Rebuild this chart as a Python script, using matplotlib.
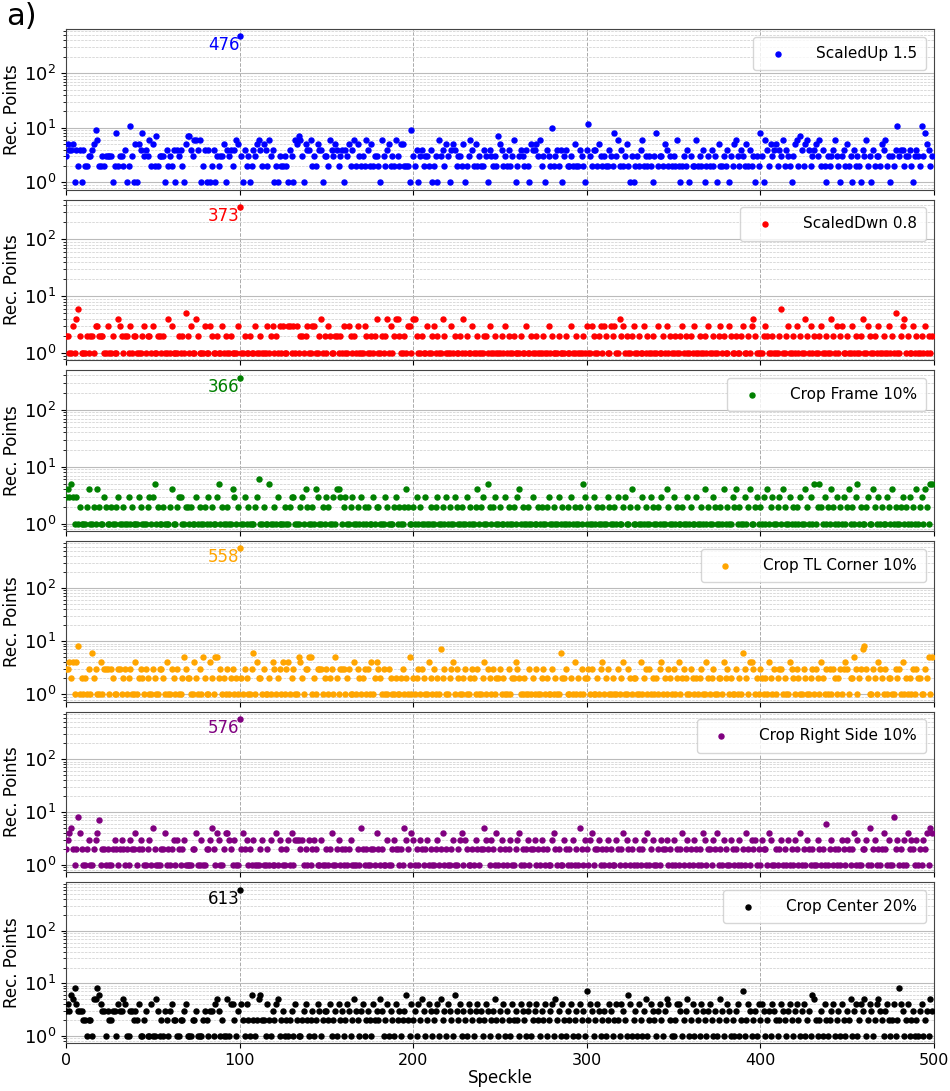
import numpy as np
import matplotlib
matplotlib.use("Agg")
import matplotlib.pyplot as plt

# recovered points per speckle (estimated, 500 speckles per panel)
scaled_up = [
    3,5,4,4,5,1,4,2,4,1, 4,2,2,3,3,4,5,9,6,2, 2,3,2,3,3,3,3,1,2,8, 2,3,3,2,4,1,2,11,3,1, 5,1,5,4,8,3,4,3,6,2,
    5,2,7,2,3,3,3,1,4,2, 3,2,4,1,4,3,4,2,1,5, 7,7,4,3,6,6,4,6,1,2, 4,1,4,1,2,4,1,3,2,3, 3,5,1,4,3,4,2,4,6,5,
    476,3,1,4,2,3,1,2,4,3, 5,6,4,2,5,4,2,6,3,4, 1,2,1,3,2,2,3,2,1,4, 3,1,6,5,7,6,3,1,5,4, 4,6,2,3,2,5,4,4,1,3,
    3,2,6,4,3,5,4,2,3,4, 1,4,3,5,2,4,6,2,5,3, 2,3,2,6,4,2,5,2,3,3, 2,1,6,3,2,4,5,2,3,2, 6,3,2,5,5,2,2,2,1,9,
    3,2,4,1,3,4,2,3,3,2, 4,1,2,3,1,6,3,4,2,5, 3,1,4,5,4,2,3,3,2,5, 1,2,3,6,4,2,5,2,3,2, 2,4,3,1,4,3,2,3,2,7,
    5,4,2,3,2,4,2,3,6,1, 2,3,4,3,2,4,2,1,5,4, 4,5,3,6,2,3,1,4,3,2, 10,2,3,4,2,4,1,3,4,2, 2,3,2,5,2,2,4,3,2,1,
    4,12,3,2,4,4,2,5,3,2, 3,2,2,4,3,2,8,3,6,2, 4,2,3,5,2,1,3,1,2,3, 2,4,6,2,3,2,3,2,1,3, 8,2,3,3,2,5,4,2,3,2,
    3,2,6,2,1,2,3,2,4,1, 3,2,2,6,2,3,2,4,1,2, 3,2,4,2,3,1,5,2,2,3, 2,4,1,3,2,5,6,3,2,4, 3,2,5,2,4,2,3,1,3,2,
    8,3,1,6,4,2,5,3,4,5, 2,4,3,6,2,4,3,2,1,3, 5,6,2,7,4,2,5,6,4,2, 3,4,5,3,6,2,4,2,1,3, 2,3,4,6,3,2,1,3,4,2,
    5,2,3,1,4,2,3,2,1,4, 3,6,2,3,1,4,2,3,3,2, 5,4,6,2,3,1,3,2,4,11, 3,4,4,2,3,3,4,2,1,3, 4,3,2,11,3,8,5,4,2,3,
]

scaled_dwn = [
    2,2,1,1,3,1,4,6,2,1, 1,1,2,1,2,2,1,3,3,2, 2,2,1,1,3,1,1,2,1,1, 4,3,2,1,2,2,1,3,1,2, 2,1,1,1,2,3,1,2,2,1,
    3,1,1,2,2,1,2,1,1,4, 1,3,1,1,1,2,1,2,1,5, 2,1,3,1,1,4,2,1,1,1, 3,1,1,3,2,1,1,2,1,1, 3,1,2,1,1,2,1,1,1,3,
    373,1,1,2,1,1,2,1,1,3, 1,1,2,1,1,1,3,1,2,3, 1,2,1,3,1,3,1,1,3,3, 1,3,1,3,1,2,2,1,2,3, 1,1,3,3,1,1,2,4,1,2,
    1,3,2,1,1,2,2,1,2,1, 3,1,1,3,2,1,2,1,3,1, 1,1,3,2,1,1,2,1,2,4, 1,1,2,1,2,4,1,3,1,2, 4,4,2,1,1,2,1,3,3,1,
    4,4,2,1,1,2,1,1,3,1, 1,2,3,1,2,1,1,4,2,1, 1,1,3,1,2,1,1,2,1,4, 1,2,1,1,3,1,1,2,1,1, 1,2,2,1,3,1,1,2,1,1,
    1,2,1,3,1,2,1,1,2,1, 1,1,2,1,1,3,1,1,2,1, 1,2,1,1,1,2,1,1,3,1, 2,1,1,1,2,1,1,1,2,1, 1,3,1,1,2,1,1,1,2,1,
    3,1,1,3,2,1,1,2,3,1, 3,2,1,1,3,2,3,1,1,4, 2,3,1,2,1,1,2,3,1,1, 2,1,1,3,1,2,1,1,2,1, 1,3,1,1,2,1,3,1,2,1,
    1,2,1,1,2,3,1,2,1,1, 2,1,3,1,1,2,1,1,2,1, 3,1,1,2,1,1,2,3,1,2, 1,1,3,2,1,1,2,1,1,2, 3,1,1,2,1,3,4,2,1,1,
    1,1,2,3,2,1,1,2,1,1, 1,2,6,1,1,2,3,1,1,2, 1,3,1,2,1,1,4,2,1,3, 1,2,1,1,2,3,1,1,2,1, 1,4,2,1,3,1,2,3,1,1,
    2,1,1,3,1,2,1,1,2,4, 1,1,3,2,1,1,2,1,3,1, 1,2,1,1,3,1,2,1,5,1, 1,2,3,4,1,2,1,1,3,1, 2,1,1,2,1,3,1,2,1,2,
]

crop_frame = [
    3,4,3,5,3,1,3,1,2,1, 1,1,2,4,1,1,2,1,4,2, 1,1,3,2,1,1,2,1,1,2, 3,1,1,2,1,1,3,1,2,1, 1,1,3,2,1,1,1,2,3,1,
    3,5,1,2,1,1,2,1,1,1, 2,4,1,1,2,3,3,1,1,2, 2,1,2,1,1,3,1,2,1,1, 2,1,3,1,2,1,1,3,5,1, 2,1,1,2,1,1,4,3,1,2,
    366,1,1,3,1,2,1,1,1,2, 3,6,1,1,2,1,1,5,1,1, 2,1,3,1,1,1,2,1,1,2, 3,3,1,1,1,2,3,1,4,2, 1,1,2,1,4,3,1,1,2,1,
    3,2,1,1,3,1,4,4,3,1, 2,3,1,1,2,3,1,1,2,1, 3,1,2,1,2,1,1,3,1,2, 2,1,1,1,3,2,1,1,1,2, 3,1,2,1,1,2,4,2,1,1,
    2,1,3,1,2,1,1,3,1,1, 2,1,1,2,3,1,1,2,1,3, 1,2,1,1,3,2,1,1,2,1, 1,3,1,2,1,1,2,4,1,2, 3,1,1,5,2,1,2,3,1,1,
    2,1,1,3,1,2,1,1,2,1, 3,4,1,2,1,1,2,1,1,3, 1,1,2,1,2,1,1,2,3,1, 1,2,1,1,3,1,2,1,1,2, 1,3,1,2,1,1,2,1,5,3,
    1,2,1,1,3,1,2,1,1,2, 1,1,3,2,1,1,2,1,3,1, 1,2,3,1,1,2,4,1,1,2, 1,1,3,1,2,1,1,3,2,1, 1,2,1,3,1,1,4,2,1,1,
    3,1,2,1,1,2,1,1,3,1, 2,1,1,3,1,1,2,1,4,1, 2,1,1,3,2,1,1,2,1,4, 1,2,1,1,3,2,4,1,2,1, 1,3,1,2,4,1,1,2,3,1,
    2,1,3,1,4,1,2,3,1,1, 2,3,1,4,2,1,1,3,1,2, 1,2,1,3,1,1,4,2,1,3, 1,5,1,2,5,2,1,3,1,2, 1,4,2,1,3,1,2,1,3,1,
    2,4,1,2,1,3,5,1,2,1, 1,2,3,1,1,4,2,1,3,1, 2,1,1,3,2,1,4,1,2,1, 1,2,3,1,2,1,3,1,2,1, 4,1,2,3,1,4,2,1,5,5,
]

crop_tl = [
    3,3,4,2,4,1,4,8,1,2, 1,2,1,3,1,6,2,3,1,1, 4,1,3,3,3,1,3,2,1,1, 3,3,1,2,3,1,2,3,1,1, 4,1,2,3,2,1,3,2,1,1,
    3,2,1,1,3,3,2,1,4,1, 1,3,2,1,3,1,1,2,5,3, 2,2,1,1,4,2,1,3,1,5, 2,1,1,4,2,1,5,5,2,3, 1,2,1,3,1,2,3,1,2,1,
    558,2,1,3,2,1,1,3,6,1, 4,2,2,1,3,1,1,2,1,4, 3,1,2,3,1,4,1,3,4,1, 2,3,1,1,5,4,2,1,3,3, 5,5,1,2,1,3,3,3,1,2,
    3,1,2,3,1,5,2,1,3,3, 3,1,2,3,1,1,4,1,3,2, 1,2,3,1,3,1,4,1,2,4, 3,2,1,3,1,1,3,2,1,1, 2,1,1,2,3,1,2,1,5,1,
    2,1,2,3,1,3,2,1,1,4, 2,1,3,1,2,1,7,2,3,1, 1,2,3,4,1,3,2,1,1,2, 3,1,1,2,3,2,1,3,1,1, 2,4,1,3,2,1,3,1,2,2,
    3,1,2,1,1,3,1,2,2,4, 3,2,1,1,2,1,1,3,1,2, 1,3,1,1,2,3,1,2,1,1, 3,1,2,1,1,6,2,2,3,1, 1,2,1,4,1,2,1,3,1,2,
    2,3,1,3,1,1,2,1,3,4, 1,2,3,1,1,2,1,1,3,1, 2,4,1,1,3,2,1,2,2,1, 1,4,1,2,3,1,3,1,2,1, 2,1,3,4,1,2,1,3,2,1,
    3,1,2,4,1,2,3,2,1,1, 3,2,1,2,1,2,3,1,1,4, 2,1,2,3,1,1,2,2,1,4, 2,3,1,2,1,1,3,1,2,1, 6,3,2,1,4,4,3,1,2,1,
    3,2,1,2,1,4,2,1,3,1, 2,3,3,1,2,1,1,4,3,2, 1,3,2,1,1,3,2,1,1,2, 3,1,3,2,1,4,2,1,3,1, 3,1,3,2,1,2,3,1,3,4,
    3,1,2,2,5,3,1,2,3,7, 8,3,2,1,1,3,2,1,4,3, 2,1,3,1,2,2,1,1,3,2, 3,1,4,1,2,1,2,1,3,1, 3,2,2,1,1,3,2,5,1,5,
]

crop_right = [
    2,3,4,5,2,1,2,8,4,2, 1,1,2,3,1,1,2,3,4,7, 1,2,2,1,2,1,1,2,3,2, 1,2,3,2,1,2,1,3,2,2, 4,1,2,3,2,1,1,2,3,1,
    5,2,1,1,1,2,2,4,1,2, 1,2,3,1,3,2,1,2,3,1, 1,1,1,2,2,4,1,1,3,1, 1,2,2,3,5,2,1,4,3,1, 1,2,4,4,3,2,1,3,1,1,
    576,2,4,2,3,1,2,1,3,1, 1,1,2,3,1,1,2,1,3,1, 1,4,1,3,2,1,1,2,3,1, 4,1,3,3,3,2,3,1,2,1, 3,1,2,3,2,1,1,3,1,1,
    2,1,2,4,1,1,2,3,1,2, 1,2,1,2,3,1,1,1,2,1, 5,2,1,2,1,1,2,2,1,4, 2,1,2,1,1,3,1,1,2,3, 2,2,1,2,1,5,3,2,1,4,
    3,1,2,1,3,2,1,2,3,1, 2,1,1,2,3,1,2,4,1,2, 1,1,2,3,1,1,2,3,4,1, 3,2,1,1,2,1,3,2,1,2, 2,5,3,2,1,3,2,1,4,1,
    2,3,1,2,1,2,3,1,1,2, 3,4,1,2,1,2,3,1,2,2, 3,1,2,1,3,2,1,2,1,1, 3,4,2,1,2,1,1,3,2,1, 2,1,3,1,2,1,5,2,1,3,
    2,1,3,4,1,2,2,3,1,2, 1,2,3,1,2,1,1,3,2,1, 2,4,1,3,2,1,2,1,3,1, 2,1,2,3,1,4,1,2,3,1, 1,2,1,3,2,2,3,1,2,1,
    3,1,2,1,2,4,1,2,3,1, 2,1,3,2,1,2,1,4,3,1, 2,2,1,3,2,4,1,2,1,3, 2,1,1,3,2,1,2,1,3,1, 2,1,4,2,1,3,2,3,1,2,
    1,3,2,2,1,4,3,1,1,2, 1,2,3,1,2,1,3,1,2,1, 3,2,1,4,1,2,1,3,2,1, 2,1,1,3,2,1,2,1,6,1, 2,3,1,2,1,2,1,3,2,1,
    3,2,1,2,4,1,3,1,1,2, 2,3,1,5,1,2,3,1,2,1, 2,4,2,1,3,1,1,8,2,3, 1,2,1,3,1,4,2,3,2,1, 3,1,2,1,3,2,4,1,5,4,
]

crop_center = [
    3,4,3,6,5,8,4,3,3,3, 2,2,1,2,2,1,5,5,8,6, 4,3,3,1,3,2,2,3,3,1, 4,3,3,5,4,1,1,3,3,2, 3,2,4,1,1,2,3,1,1,4,
    1,1,5,3,1,2,1,3,2,1, 3,4,2,2,1,1,2,2,3,4, 1,1,1,2,2,3,1,1,1,2, 3,2,1,3,3,1,4,5,3,1, 2,1,1,5,1,4,4,2,1,3,
    613,4,2,1,4,2,1,6,2,1, 2,5,6,2,2,1,4,2,1,3, 2,4,5,1,2,3,1,2,1,2, 3,1,4,2,1,1,2,3,4,2, 1,2,3,1,2,4,3,1,2,3,
    3,2,4,1,2,3,1,4,2,3, 1,2,4,3,1,2,5,3,2,1, 3,4,1,2,3,2,1,4,2,3, 2,5,3,1,2,4,1,3,2,1, 4,2,3,1,2,3,6,2,1,4,
    2,3,1,4,2,5,3,1,2,4, 3,1,2,3,4,1,5,2,3,1, 4,3,2,1,6,3,2,4,1,3, 2,1,4,3,2,1,3,4,2,3, 1,2,4,3,1,2,3,5,2,1,
    3,2,4,1,3,2,1,4,2,3, 2,1,4,3,2,1,3,4,1,2, 3,4,2,1,3,2,4,1,2,3, 4,1,5,2,3,1,4,2,1,3, 2,4,1,2,3,1,4,2,3,1,
    7,2,4,3,1,2,4,3,1,2, 3,1,2,4,3,1,2,4,2,1, 4,3,2,1,6,4,1,2,3,1, 4,2,1,3,5,1,2,4,3,2, 1,3,4,2,1,3,5,4,2,1,
    1,2,4,4,3,1,2,3,5,1, 2,4,1,3,2,1,4,3,2,1, 3,4,2,1,3,1,2,5,3,1, 2,4,3,1,2,1,3,4,1,2, 7,1,2,4,3,1,2,3,1,4,
    2,4,3,1,2,3,1,4,3,2, 1,2,4,3,2,1,3,4,2,1, 3,4,2,1,3,4,1,2,3,1, 6,5,2,1,2,3,1,4,2,1, 2,3,4,1,2,3,1,4,2,1,
    3,2,5,1,3,4,1,2,4,3, 5,1,2,4,3,1,2,4,5,3, 2,1,3,4,2,1,2,4,1,2, 8,4,3,1,2,4,1,2,3,1, 2,1,3,4,1,2,3,1,5,3,
]

series = [scaled_up, scaled_dwn, crop_frame, crop_tl, crop_right, crop_center]
labels = ["ScaledUp 1.5", "ScaledDwn 0.8", "Crop Frame 10%",
          "Crop TL Corner 10%", "Crop Right Side 10%", "Crop Center 20%"]
colors = ["blue", "red", "green", "orange", "purple", "black"]

fig, axes = plt.subplots(6, 1, figsize=(9.5, 10.91), dpi=100, sharex=True,
                         gridspec_kw=dict(hspace=0.062))
fig.subplots_adjust(left=0.0695, right=0.983, top=1 - 29 / 1091, bottom=1 - 1043 / 1091)

for ax, vals, lab, col in zip(axes, series, labels, colors):
    vals = np.array(vals)
    x = np.arange(len(vals))
    ax.scatter(x, vals, s=13, color=col, label=lab, zorder=3)
    ax.set_yscale("log")
    ax.set_xlim(0, 500)
    # annotate the outlier
    i = int(np.argmax(vals))
    ax.text(x[i], vals[i], str(vals[i]), color=col, ha="right", va="top", fontsize=12)
    ax.set_ylabel("Rec. Points", fontsize=12, labelpad=2)
    ax.tick_params(axis="y", labelsize=13)
    ax.tick_params(axis="x", labelsize=11.5)
    ax.grid(True, which="major", axis="y", color="#bbbbbb", lw=0.8, ls="-")
    ax.grid(True, which="major", axis="x", color="#aaaaaa", lw=0.7, ls="--")
    ax.grid(True, which="minor", axis="y", color="#cccccc", lw=0.5, ls="--")
    ax.legend(loc="upper right", fontsize=11, handletextpad=1.5, borderpad=0.6)
    for sp in ax.spines.values():
        sp.set_color("#444444")

axes[-1].set_xticks([0, 100, 200, 300, 400, 500])
axes[-1].set_xlabel("Speckle", fontsize=12, labelpad=1)

fig.text(0.006, 0.998, "a)", fontsize=22, ha="left", va="top")

fig.savefig("out.png", dpi=100)
